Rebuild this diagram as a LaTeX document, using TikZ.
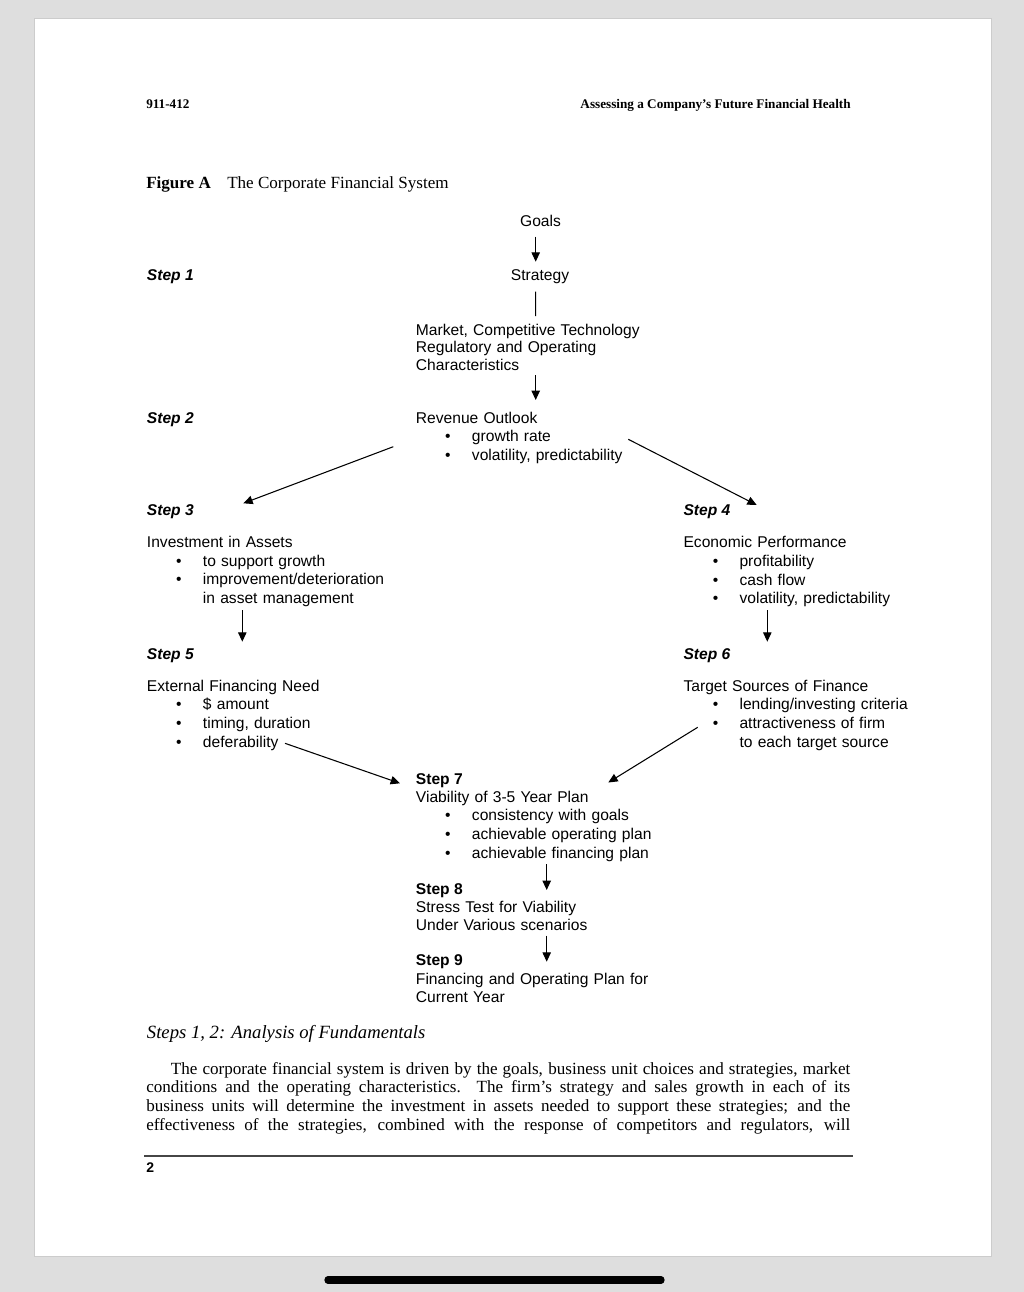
\documentclass[tikz,border=0pt]{standalone}
\usepackage{fontspec}
\setmainfont{Liberation Serif}
\newfontfamily\arialf{Liberation Sans}
\usetikzlibrary{arrows.meta,calc}
\definecolor{bg}{RGB}{222,222,222}
\definecolor{pageedge}{RGB}{204,204,204}
\definecolor{rulegray}{RGB}{70,70,70}
\newcommand\dfont{\arialf\fontsize{11.7pt}{13.9pt}\selectfont}
\newcommand\bul{\hspace*{19.5pt}\makebox[9pt][c]{\textbullet}\hspace*{13.5pt}}
\newcommand\cont{\hspace*{42pt}}
\begin{document}
\begin{tikzpicture}[x=0.75pt,y=-0.75pt,
  arr/.style={-{Triangle[length=7pt,width=6.3pt]},line width=0.8pt},
  conn/.style={line width=0.8pt},
  lbl/.style={inner sep=0pt,anchor=base,font=\dfont},
  blk/.style={inner sep=0pt,anchor=base west,text width=260pt,align=left,
              font=\arialf\fontsize{11.7pt}{#1}\selectfont},
  stepi/.style={inner sep=0pt,anchor=base west,font=\dfont\bfseries\itshape},
  stepb/.style={inner sep=0pt,anchor=base west,font=\dfont\bfseries},
  serifb/.style={inner sep=0pt,font=\fontsize{#1}{#1}\selectfont\bfseries},
]
\useasboundingbox (0,0) rectangle (1024,1292);
\fill[bg] (0,0) rectangle (1024,1292);
\draw[pageedge,fill=white,line width=0.5pt] (34,18) rectangle (991,1256);
\draw[line width=5.5pt,line cap=round] (328,1280) -- (661,1280);

% header
\node[serifb=9.9pt,anchor=base west] (hl) at (146,108) {911-412};
\node[serifb=9.9pt,anchor=base east] (hr) at (851,108) {Assessing a Company's Future Financial Health};
\node[serifb=12.8pt,anchor=base west] (figa) at (146,188.3) {Figure A};
\node[inner sep=0pt,anchor=base west,font=\fontsize{12.8pt}{14pt}\selectfont] (figt) at (227,188.3) {The Corporate Financial System};

% diagram
\node[lbl] (goals) at (540.5,226.5) {Goals};
\node[lbl] (strat) at (540,280) {Strategy};
\node[stepi] (step1) at (146.7,280) {Step 1};
\node[blk=13.3pt] (market) at (415.7,335) {Market, Competitive Technology\\Regulatory and Operating\\Characteristics};
\node[stepi] (step2) at (146.7,423.3) {Step 2};
\node[blk=14pt] (rev) at (415.7,423.3) {Revenue Outlook\\ \bul growth rate\\ \bul volatility, predictability};

\node[stepi] (step3) at (146.7,515) {Step 3};
\node[stepi] (step4) at (683.3,515) {Step 4};
\node[blk=13.9pt] (inv) at (146.7,547.7) {Investment in Assets\\ \bul to support growth\\ \bul improvement/deterioration\\ \cont in asset management};
\node[blk=14pt] (econ) at (683.3,547.7) {Economic Performance\\ \bul profitability\\ \bul cash flow\\ \bul volatility, predictability};

\node[stepi] (step5) at (146.7,659) {Step 5};
\node[stepi] (step6) at (683.3,659) {Step 6};
\node[blk=14.2pt] (ext) at (146.7,691) {External Financing Need\\ \bul \$ amount\\ \bul timing, duration\\ \bul deferability};
\node[blk=14pt] (targ) at (683.3,691) {Target Sources of Finance\\ \bul lending/investing criteria\\ \bul attractiveness of firm\\ \cont to each target source};

\node[stepb] (step7) at (415.7,784) {Step 7};
\node[blk=14pt] (plan) at (415.7,802) {Viability of 3-5 Year Plan\\ \bul consistency with goals\\ \bul achievable operating plan\\ \bul achievable financing plan};
\node[stepb] (step8) at (415.7,894.3) {Step 8};
\node[blk=13.5pt] (stress) at (415.7,912.3) {Stress Test for Viability\\Under Various scenarios};
\node[stepb] (step9) at (415.7,965.7) {Step 9};
\node[blk=13.5pt] (fin) at (415.7,984) {Financing and Operating Plan for\\Current Year};

% connectors
\draw[arr] ($(goals.base)+(-4.8,10.2)$) -- ($(strat.base)+(-4.3,-18.3)$);
\draw[conn] ($(strat.base)+(-4.3,11.7)$) -- ($(market.base west)+(120,-19)$);
\draw[arr] ($(market.base west)+(120,40)$) -- ($(rev.base west)+(120,-23.3)$);
\draw[arr] ($(rev.base west)+(-22.4,23.4)$) -- ($(step3.base west)+(96.6,-11.7)$);
\draw[arr] ($(rev.base west)+(212.6,16)$) -- ($(step4.base west)+(73.4,-10)$);
\draw[arr] ($(inv.base west)+(95.6,62.3)$) -- ($(step5.base west)+(95.6,-17.3)$);
\draw[arr] ($(econ.base west)+(84,62.3)$) -- ($(step6.base west)+(84,-17.3)$);
\draw[arr] ($(ext.base west)+(138.3,52.3)$) -- ($(step7.base west)+(-15.7,-0.7)$);
\draw[arr] ($(targ.base west)+(14.4,36.3)$) -- ($(step7.base west)+(192.6,-1.5)$);
\draw[arr] ($(plan.base west)+(131,62)$) -- ($(step8.base west)+(131,-4.3)$);
\draw[arr] ($(stress.base west)+(131,23.4)$) -- ($(step9.base west)+(131,-4)$);

% text below
\node[inner sep=0pt,anchor=base west,font=\fontsize{14pt}{16pt}\selectfont\itshape] (head) at (146.7,1038.3) {Steps 1, 2: Analysis of Fundamentals};
\node[inner sep=0pt,anchor=base west,text width=528pt,align=justify,font=\fontsize{12.8pt}{14pt}\selectfont] (body) at (146,1074)
 {\hspace*{18.5pt}The corporate financial system is driven by the goals, business unit choices and strategies, market\linebreak
 conditions and the operating characteristics.\ \ The firm's strategy and sales growth in each of its\linebreak
 business units will determine the investment in assets needed to support these strategies; and the\linebreak
 effectiveness of the strategies, combined with the response of competitors and regulators, will\parfillskip=0pt\par};
\draw[rulegray,line width=0.8pt] (144.4,1156) -- (852.5,1156);
\node[inner sep=0pt,anchor=base west,font=\arialf\fontsize{10.5pt}{12pt}\selectfont\bfseries] (pnum) at (146,1172) {2};
\end{tikzpicture}
\end{document}
